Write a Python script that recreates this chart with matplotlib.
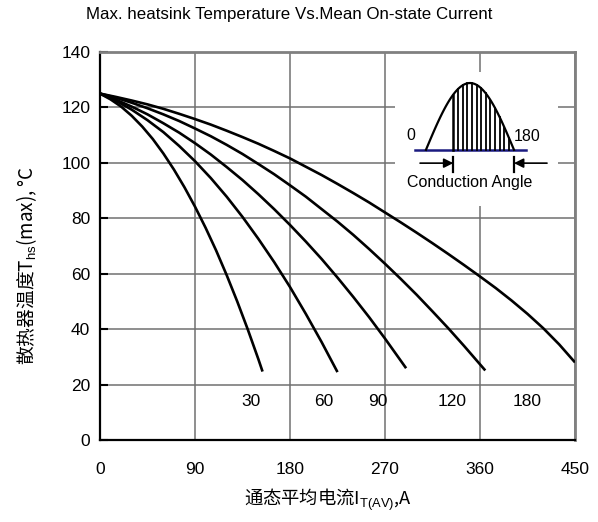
import numpy as np
import matplotlib
matplotlib.use("Agg")
import matplotlib.pyplot as plt
from matplotlib.patches import Rectangle

plt.rcParams['font.family'] = ['Liberation Sans', 'Noto Sans CJK SC', 'DejaVu Sans']
plt.rcParams['mathtext.fontset'] = 'custom'
plt.rcParams['mathtext.rm'] = 'Liberation Sans'
plt.rcParams['mathtext.it'] = 'Liberation Sans'

# ---- data ----
x30 = [0, 10, 20, 30, 40, 50, 60, 70, 80, 90, 100, 110, 120, 130, 140, 150, 154]
y30 = [125, 122.9, 120.3, 117.0, 113.1, 108.6, 103.4, 97.6, 91.2, 84.2, 76.6, 68.4,
       59.5, 50.0, 39.9, 29.2, 24.7]

x60 = [0, 15, 30, 45, 60, 75, 90, 105, 120, 135, 150, 165, 180, 195, 210, 225]
y60 = [125, 122.4, 119.2, 115.4, 111.1, 106.1, 100.6, 94.5, 87.8, 80.5, 72.6, 64.2,
       55.2, 45.5, 35.3, 24.5]

x90 = [0, 15, 30, 45, 60, 75, 90, 105, 120, 135, 150, 165, 180, 195, 210, 225, 240,
       255, 270, 290]
y90 = [125, 122.8, 120.3, 117.5, 114.3, 110.9, 107.1, 103.0, 98.5, 93.8, 88.7, 83.3,
       77.6, 71.6, 65.3, 58.6, 51.6, 44.3, 36.6, 25.9]

x120 = [0, 15, 30, 45, 60, 75, 90, 105, 120, 135, 150, 165, 180, 195, 210, 225, 240,
        255, 270, 285, 300, 315, 330, 345, 365]
y120 = [125, 123.5, 121.7, 119.7, 117.5, 115.1, 112.4, 109.6, 106.5, 103.2, 99.6, 95.9,
        91.9, 87.8, 83.3, 78.8, 74.0, 68.9, 63.6, 58.1, 52.4, 46.4, 40.3, 33.9, 25.1]

x180 = [0, 15, 30, 45, 60, 75, 90, 105, 120, 135, 150, 165, 180, 195, 210, 225, 240,
        255, 270, 285, 300, 315, 330, 345, 360, 375, 390, 405, 420, 435, 450]
y180 = [125, 123.8, 122.5, 121.1, 119.5, 117.7, 115.8, 113.8, 111.6, 109.3, 106.9,
        104.3, 101.6, 98.6, 95.6, 92.4, 89.1, 85.7, 82.1, 78.5, 74.8, 71.0, 67.1,
        63.1, 59.0, 54.8, 50.3, 45.5, 40.3, 34.5, 28.0]

curve_labels = ["30", "60", "90", "120", "180"]
label_x = [143, 212, 263, 334, 405]
label_y = [14, 14, 14, 14, 14]

xticks = [0, 90, 180, 270, 360, 450]
yticks = [0, 20, 40, 60, 80, 100, 120, 140]

title = "Max. heatsink Temperature Vs.Mean On-state Current"
ylabel = "散热器温度T$_{\\mathrm{hs}}$(max), °C"
xlabel = "通态平均电流I$_{\\mathrm{T(AV)}}$,A"

fig = plt.figure(figsize=(5.98, 5.22), dpi=100)
ax = fig.add_axes([100/598, 82/522, 475/598, 388/522])

ax.set_xlim(0, 450)
ax.set_ylim(0, 140)
ax.set_xticks(xticks)
ax.set_yticks(yticks)
ax.tick_params(axis='y', direction='in', length=6, width=1.5, pad=7, labelsize=12.5)
ax.tick_params(axis='x', length=0, pad=16, labelsize=12.5)
ax.grid(True, color='#707070', linewidth=1.1)

for side in ['left', 'bottom']:
    ax.spines[side].set_color('black')
    ax.spines[side].set_linewidth(1.6)
for side in ['top', 'right']:
    ax.spines[side].set_color('#808080')
    ax.spines[side].set_linewidth(2)

# white box behind the inset diagram
ax.add_patch(Rectangle((279.5, 84.3), 154.4, 48.5, facecolor='white',
                       edgecolor='none', zorder=1.8))

for xs, ys in [(x30, y30), (x60, y60), (x90, y90), (x120, y120), (x180, y180)]:
    ax.plot(xs, ys, color='black', linewidth=1.9, zorder=3,
            solid_joinstyle='round', solid_capstyle='butt')

for t, lx, ly in zip(curve_labels, label_x, label_y):
    ax.text(lx, ly, t, ha='center', va='center', fontsize=12.5, zorder=4)

# ---- inset conduction-angle diagram ----
base_y = 104.7
x0, x1 = 308.8, 392.2
amp = 24.1
xs = np.linspace(x0, x1, 120)
ys = base_y + amp * np.sin(np.pi * (xs - x0) / (x1 - x0))
ax.plot([298.4, 403.6], [base_y, base_y], color='#1a1a80', linewidth=1.8, zorder=3)
ax.plot(xs, ys, color='black', linewidth=1.6, zorder=4)
start = 334.7
hatch = np.linspace(start, 387.5, 13)
for hx in hatch:
    hy = base_y + amp * np.sin(np.pi * (hx - x0) / (x1 - x0))
    lw = 1.8 if hx == start else 1.3
    ax.plot([hx, hx], [base_y, hy], color='black', linewidth=lw, zorder=4)

ax.annotate('', xy=(start, 99.9), xytext=(303.2, 99.9),
            arrowprops=dict(arrowstyle='-|>', color='black', lw=1.2,
                            mutation_scale=14, shrinkA=0, shrinkB=0), zorder=4)
ax.plot([start, start], [96.6, 102.0], color='black', linewidth=1.6, zorder=4)
ax.annotate('', xy=(x1, 99.9), xytext=(423.5, 99.9),
            arrowprops=dict(arrowstyle='-|>', color='black', lw=1.2,
                            mutation_scale=14, shrinkA=0, shrinkB=0), zorder=4)
ax.plot([x1, x1], [96.6, 102.0], color='black', linewidth=1.6, zorder=4)

ax.text(294.2, 109.7, "0", ha='center', va='center', fontsize=11.5, zorder=4)
ax.text(404.2, 109.5, "180", ha='center', va='center', fontsize=11.5, zorder=4)
ax.text(350.5, 93.0, "Conduction Angle", ha='center', va='center', fontsize=11.5, zorder=4)

fig.text(289/598, 1 - 14/522, title, ha='center', va='center', fontsize=12.2)
fig.text(27/598, 1 - 265/522, ylabel, rotation=90, ha='center', va='center',
         fontsize=13.5, family=['Noto Sans CJK SC'])
fig.text(328/598, 1 - 500/522, xlabel, ha='center', va='center',
         fontsize=13.2, family=['Noto Sans CJK SC'])

fig.savefig("out.png", dpi=100)
